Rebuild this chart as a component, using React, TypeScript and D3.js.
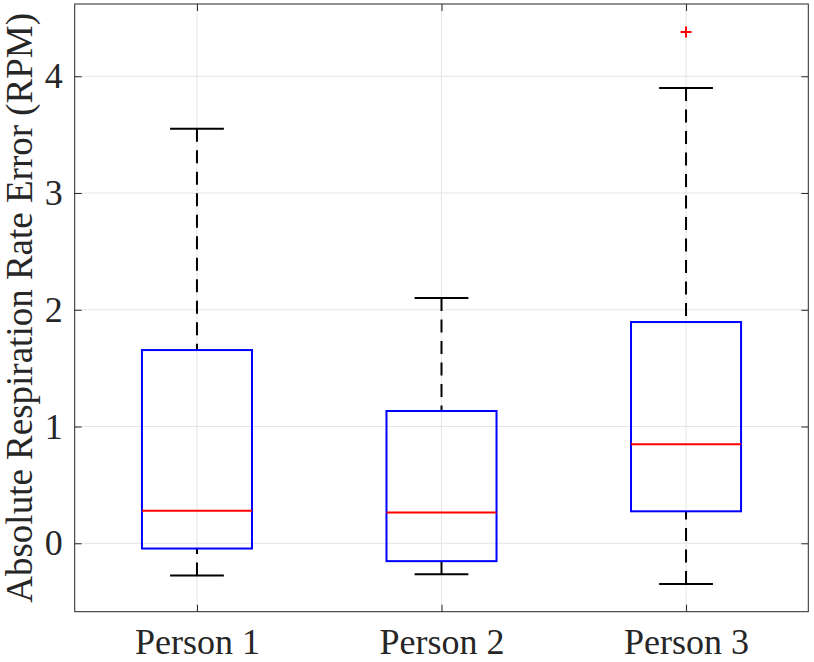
import * as d3 from "d3";
import { useRef, useEffect, ReactElement } from "react";

// box statistics (RPM)
const categories = ["Person 1", "Person 2", "Person 3"];
const upperWhisker = [3.55, 2.1, 3.9];
const q3 = [1.655, 1.133, 1.895];
const medians = [0.278, 0.264, 0.848];
const q1 = [-0.045, -0.153, 0.274];
const lowerWhisker = [-0.276, -0.266, -0.348];
const outliers = [[], [], [4.38]];
const yTicks = [0, 1, 2, 3, 4];

const width = 814;
const height = 662;
const font = "'Liberation Serif', 'Times New Roman', serif";
const axisColor = "#262626";

const App = (): ReactElement => {
    const svgRef = useRef(null);

    useEffect(() => {
        if (!svgRef.current) return;
        const svg = d3.select(svgRef.current);

        const left = 74.7, right = 808.3, top = 4, bottom = 611.7;

        const xScale = d3.scaleLinear().domain([0.5, 3.5]).range([left, right]);
        const yScale = d3.scaleLinear().domain([-0.586, 4.619]).range([bottom, top]);

        const unit = xScale(2) - xScale(1);
        const boxW = unit * 0.45;
        const capW = unit * 0.22;

        //grid lines
        const grid = svg.append("g").attr("stroke", "#e5e5e5").attr("stroke-width", 1);
        yTicks.forEach((t) => {
            grid.append("line")
                .attr("x1", left).attr("x2", right)
                .attr("y1", yScale(t)).attr("y2", yScale(t));
        });
        categories.forEach((_, i) => {
            grid.append("line")
                .attr("x1", xScale(i + 1)).attr("x2", xScale(i + 1))
                .attr("y1", top).attr("y2", bottom);
        });

        //boxes
        const boxes = svg.append("g");
        categories.forEach((_, i) => {
            const cx = xScale(i + 1);
            const g = boxes.append("g");

            // whiskers, dashed from the cap toward the box
            g.append("line")
                .attr("x1", cx).attr("x2", cx)
                .attr("y1", yScale(upperWhisker[i])).attr("y2", yScale(q3[i]))
                .attr("stroke", "#000").attr("stroke-width", 2).attr("stroke-dasharray", "13,8.5");
            g.append("line")
                .attr("x1", cx).attr("x2", cx)
                .attr("y1", yScale(lowerWhisker[i])).attr("y2", yScale(q1[i]))
                .attr("stroke", "#000").attr("stroke-width", 2).attr("stroke-dasharray", "13,8.5");

            // caps
            [upperWhisker[i], lowerWhisker[i]].forEach((v) => {
                g.append("line")
                    .attr("x1", cx - capW / 2).attr("x2", cx + capW / 2)
                    .attr("y1", yScale(v)).attr("y2", yScale(v))
                    .attr("stroke", "#000").attr("stroke-width", 2);
            });

            g.append("rect")
                .attr("x", cx - boxW / 2)
                .attr("y", yScale(q3[i]))
                .attr("width", boxW)
                .attr("height", yScale(q1[i]) - yScale(q3[i]))
                .attr("fill", "none")
                .attr("stroke", "#0000ff")
                .attr("stroke-width", 2);

            g.append("line")
                .attr("x1", cx - boxW / 2).attr("x2", cx + boxW / 2)
                .attr("y1", yScale(medians[i])).attr("y2", yScale(medians[i]))
                .attr("stroke", "#ff0000").attr("stroke-width", 2);

            outliers[i].forEach((v) => {
                const y = yScale(v);
                g.append("path")
                    .attr("d", `M${cx - 5.5},${y}H${cx + 5.5}M${cx},${y - 5.5}V${y + 5.5}`)
                    .attr("stroke", "#ff0000").attr("stroke-width", 2);
            });
        });

        //axes frame
        svg.append("rect")
            .attr("x", left).attr("y", top)
            .attr("width", right - left).attr("height", bottom - top)
            .attr("fill", "none").attr("stroke", axisColor).attr("stroke-width", 1);

        const yAxis = d3.axisLeft(yScale).tickValues(yTicks).tickFormat(d3.format("d"))
            .tickSizeInner(-7).tickSizeOuter(0).tickPadding(12);
        svg.append("g")
            .attr("transform", `translate(${left},0)`)
            .call(yAxis)
            .call((g) => g.select(".domain").remove())
            .attr("font-family", font)
            .attr("font-size", 36);
        svg.append("g")
            .attr("transform", `translate(${right},0)`)
            .call(d3.axisRight(yScale).tickValues(yTicks).tickSizeInner(-7).tickSizeOuter(0).tickFormat(() => ""))
            .call((g) => g.select(".domain").remove());

        const xAxis = d3.axisBottom(xScale).tickValues([1, 2, 3])
            .tickFormat((d) => categories[(d as number) - 1])
            .tickSizeInner(-7).tickSizeOuter(0).tickPadding(17);
        svg.append("g")
            .attr("transform", `translate(0,${bottom})`)
            .call(xAxis)
            .call((g) => g.select(".domain").remove())
            .attr("font-family", font)
            .attr("font-size", 36);
        svg.append("g")
            .attr("transform", `translate(0,${top})`)
            .call(d3.axisTop(xScale).tickValues([1, 2, 3]).tickSizeInner(-7).tickSizeOuter(0).tickFormat(() => ""))
            .call((g) => g.select(".domain").remove());

        svg.selectAll(".tick line").attr("stroke", axisColor);
        svg.selectAll(".tick text").attr("fill", axisColor);

        //y label
        svg.append("text")
            .attr("transform", `translate(32,${(top + bottom) / 2}) rotate(-90)`)
            .attr("text-anchor", "middle")
            .attr("font-family", font)
            .attr("font-size", 37)
            .attr("fill", axisColor)
            .text("Absolute Respiration Rate Error (RPM)");

        return () => {
            svg.selectAll("*").remove();
        };
    }, []);

    return (
        <svg
            ref={svgRef}
            width={width}
            height={height}
            style={{ position: "absolute", left: 0, top: 0, background: "#fff" }}
        ></svg>
    );
};

export default App;
